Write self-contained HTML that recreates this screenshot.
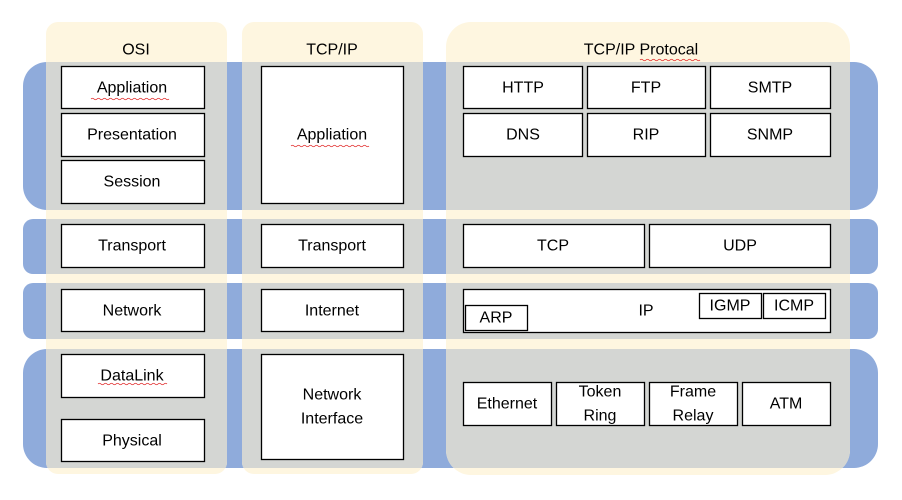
<!DOCTYPE html>
<html><head><meta charset="utf-8"><style>
html,body{margin:0;padding:0;background:#fff;}
svg text{font-family:"Liberation Sans",sans-serif;font-size:16px;fill:#000;text-anchor:middle;dominant-baseline:central;}
</style></head><body>
<svg width="902" height="495" viewBox="0 0 902 495" xmlns="http://www.w3.org/2000/svg">
<defs>
<clipPath id="cols">
<rect x="46" y="22" width="181" height="452" rx="12"/>
<rect x="242" y="22" width="181" height="452" rx="12"/>
<rect x="446" y="22" width="404" height="453" rx="25"/>
</clipPath>
<g id="bands">
<rect x="23" y="62" width="855" height="148" rx="24"/>
<rect x="23" y="219" width="855" height="55" rx="10"/>
<rect x="23" y="283" width="855" height="56" rx="10"/>
<rect x="23" y="349" width="855" height="119" rx="24"/>
</g>
</defs>
<use href="#bands" fill="#8fabdb"/>
<g fill="#fef6e0">
<rect x="46" y="22" width="181" height="452" rx="12"/>
<rect x="242" y="22" width="181" height="452" rx="12"/>
<rect x="446" y="22" width="404" height="453" rx="25"/>
</g>
<use href="#bands" fill="#d4d6d3" clip-path="url(#cols)"/>
<text x="136" y="50">OSI</text>
<text x="332" y="50">TCP/IP</text>
<text x="641" y="50">TCP/IP Protocal</text>
<g fill="#fff" stroke="#000" stroke-width="1.3">
<rect x="61.5" y="66.5" width="143" height="42"/>
<rect x="61.5" y="113.5" width="143" height="43"/>
<rect x="61.5" y="160.5" width="143" height="43"/>
<rect x="61.5" y="224.5" width="143" height="43"/>
<rect x="61.5" y="289.5" width="143" height="42"/>
<rect x="61.5" y="354.5" width="143" height="43"/>
<rect x="61.5" y="419.5" width="143" height="42"/>
<rect x="261.5" y="66.5" width="142" height="137"/>
<rect x="261.5" y="224.5" width="142" height="43"/>
<rect x="261.5" y="289.5" width="142" height="42"/>
<rect x="261.5" y="354.5" width="142" height="105"/>
<rect x="463.5" y="66.5" width="119" height="42"/>
<rect x="587.5" y="66.5" width="118" height="42"/>
<rect x="710.5" y="66.5" width="120" height="42"/>
<rect x="463.5" y="113.5" width="119" height="43"/>
<rect x="587.5" y="113.5" width="118" height="43"/>
<rect x="710.5" y="113.5" width="120" height="43"/>
<rect x="463.5" y="224.5" width="181" height="43"/>
<rect x="649.5" y="224.5" width="181" height="43"/>
<rect x="463.5" y="289.5" width="367" height="43"/>
<rect x="465.5" y="305.5" width="62" height="25"/>
<rect x="699.5" y="293.5" width="62" height="25"/>
<rect x="763.5" y="293.5" width="62" height="25"/>
<rect x="463.5" y="382.5" width="88" height="43"/>
<rect x="556.5" y="382.5" width="88" height="43"/>
<rect x="649.5" y="382.5" width="88" height="43"/>
<rect x="742.5" y="382.5" width="88" height="43"/>
</g>
<text x="132" y="88">Appliation</text>
<text x="132" y="135">Presentation</text>
<text x="132" y="182">Session</text>
<text x="132" y="246">Transport</text>
<text x="132" y="311">Network</text>
<text x="132" y="376">DataLink</text>
<text x="132" y="441">Physical</text>
<text x="332" y="135">Appliation</text>
<text x="332" y="246">Transport</text>
<text x="332" y="311">Internet</text>
<text x="332" y="395">Network</text>
<text x="332" y="419">Interface</text>
<text x="523" y="88">HTTP</text>
<text x="646" y="88">FTP</text>
<text x="770" y="88">SMTP</text>
<text x="523" y="135">DNS</text>
<text x="646" y="135">RIP</text>
<text x="770" y="135">SNMP</text>
<text x="553" y="246">TCP</text>
<text x="740" y="246">UDP</text>
<text x="646" y="311">IP</text>
<text x="496" y="318">ARP</text>
<text x="730" y="306">IGMP</text>
<text x="794" y="306">ICMP</text>
<text x="507" y="404">Ethernet</text>
<text x="600" y="392">Token</text>
<text x="600" y="416">Ring</text>
<text x="693" y="392">Frame</text>
<text x="693" y="416">Relay</text>
<text x="786" y="404">ATM</text>
<g fill="none" stroke="#e02020" stroke-width="0.8">
<path d="M91 99 q1.5 -1.5 3 0 t3 0 t3 0 t3 0 t3 0 t3 0 t3 0 t3 0 t3 0 t3 0 t3 0 t3 0 t3 0 t3 0 t3 0 t3 0 t3 0 t3 0 t3 0 t3 0 t3 0 t3 0 t3 0 t3 0 t3 0 t3 0"/>
<path d="M291 146 q1.5 -1.5 3 0 t3 0 t3 0 t3 0 t3 0 t3 0 t3 0 t3 0 t3 0 t3 0 t3 0 t3 0 t3 0 t3 0 t3 0 t3 0 t3 0 t3 0 t3 0 t3 0 t3 0 t3 0 t3 0 t3 0 t3 0 t3 0"/>
<path d="M98 384 q1.5 -1.5 3 0 t3 0 t3 0 t3 0 t3 0 t3 0 t3 0 t3 0 t3 0 t3 0 t3 0 t3 0 t3 0 t3 0 t3 0 t3 0 t3 0 t3 0 t3 0 t3 0 t3 0 t3 0 t3 0"/>
<path d="M640 60 q1.5 -1.5 3 0 t3 0 t3 0 t3 0 t3 0 t3 0 t3 0 t3 0 t3 0 t3 0 t3 0 t3 0 t3 0 t3 0 t3 0 t3 0 t3 0 t3 0 t3 0 t3 0"/>
</g>
</svg>
</body></html>
